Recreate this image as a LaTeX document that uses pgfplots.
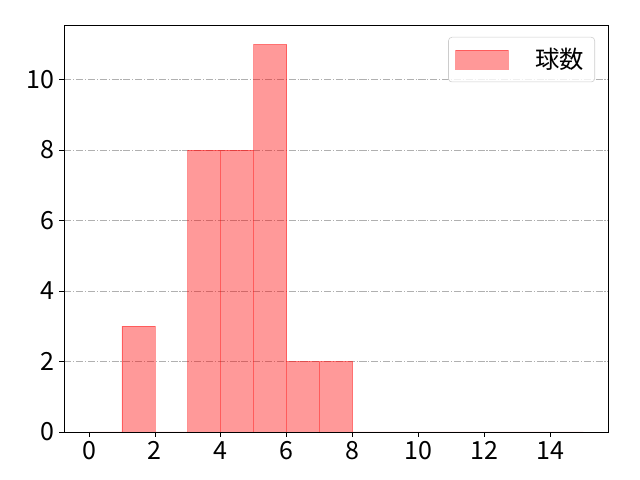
\documentclass[border=0pt]{standalone}
\usepackage{fontspec}
\setmainfont{Noto Sans CJK JP}
\usepackage{pgfplots}
\pgfplotsset{compat=1.18}
\definecolor{gridgray}{HTML}{B0B0B0}
\definecolor{leggray}{HTML}{CCCCCC}
\begin{document}
\begin{tikzpicture}
\begin{axis}[
  at={(0pt,0pt)}, anchor=south west,
  scale only axis,
  width=391.5pt, height=293pt,
  xmin=-0.75, xmax=15.75,
  ymin=0, ymax=11.55,
  xtick={0,2,...,14},
  ytick={0,2,...,10},
  tick align=outside,
  xtick pos=bottom, ytick pos=left,
  major tick length=3.5pt,
  tick style={black, line width=0.6pt},
  axis line style={black, line width=0.6pt},
  ymajorgrids,
  grid style={gridgray, line width=0.6pt, dash pattern=on 5.1pt off 1.3pt on 0.8pt off 1.3pt},
  /pgf/number format/assume math mode=true,
  tick label style={font=\fontsize{18}{21}\selectfont},
  legend style={at={(1,1)}, anchor=north east, xshift=-9.4pt, yshift=-8.6pt,
    draw=leggray, rounded corners=2.5pt, fill=white, fill opacity=0.8, text opacity=1,
    font=\fontsize{17.5}{20}\selectfont, inner xsep=5pt, inner ysep=5pt},
  legend cell align=left,
  legend image code/.code={\draw[#1, sharp corners] (0pt,-6.8pt) rectangle (37.7pt,6.8pt);},
  legend style={nodes={inner sep=3pt}},
  every axis legend/.append style={column sep=4pt},
]
\addplot[ybar interval, fill=red, fill opacity=0.4, draw=red, draw opacity=0.4, line width=0.6pt]
coordinates {(0,0) (1,3) (2,0) (3,8) (4,8) (5,11) (6,2) (7,2) (8,0) (9,0) (10,0) (11,0) (12,0) (13,0) (14,0) (15,0)};
\addlegendentry{\hspace{12pt}球数}
\end{axis}
\pgfresetboundingbox
\useasboundingbox (-46.3pt,-34.56pt) rectangle (414.5pt,311pt);
\end{tikzpicture}
\end{document}
